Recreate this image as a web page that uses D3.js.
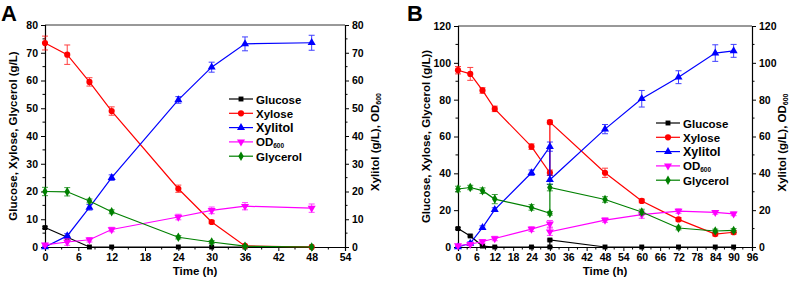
<!DOCTYPE html>
<html>
<head>
<meta charset="utf-8">
<script src="https://cdn.jsdelivr.net/npm/d3@7"></script>
<style>
  body { margin: 0; background: #fff; }
  svg { display: block; }
  text { font-family: "Liberation Sans", Arial, sans-serif; font-weight: bold; fill: #000; }
</style>
</head>
<body>
<div id="chart"></div>
<script>
////////////////////////////////////////////////////////////////////////
// Data

let seriesNames = ["Glucose", "Xylose", "Xylitol", "OD600", "Glycerol"];

// Panel A
let timeA     = [0, 4, 8, 12, 24, 30, 36, 48];
let glucoseA  = [7, 3.5, 0, 0, 0, 0, 0, 0];
let glucoseErrA = [0.3, 0.3, 0.2, 0.2, 0.2, 0.2, 0.2, 0.2];
let xyloseA   = [73.5, 69.3, 59.5, 49, 21, 9, 0.4, 0];
let xyloseErrA = [2.5, 3.5, 1.5, 1.5, 1.3, 0.6, 0.3, 0];
let xylitolA  = [0, 4, 14.3, 25, 53, 64.8, 73.2, 73.6];
let xylitolErrA = [0.3, 0.8, 1, 1, 1.2, 1.8, 2.5, 2.7];
let odA       = [0.8, 1.8, 2.6, 6.3, 10.8, 13.2, 14.7, 14];
let odErrA    = [0.5, 1.2, 0.8, 0.8, 1, 1.2, 1.3, 1.5];
let glycerolA = [20, 19.9, 16.6, 12.7, 3.5, 1.8, 0.3, 0];
let glycerolErrA = [1.5, 1.5, 0.7, 0.7, 0.6, 0.5, 0.3, 0.2];

// Panel B (two samples at 30 h: before and after feeding)
let timeB     = [0, 4, 8, 12, 24, 30, 30, 48, 60, 72, 84, 90];
let glucoseB  = [10, 6, 0.5, 0, 0, 0, 3.8, 0, 0, 0, 0, 0];
let glucoseErrB = [0.5, 0.5, 0.4, 0.3, 0.3, 0.3, 0.5, 0.2, 0.2, 0.2, 0.2, 0.2];
let xyloseB   = [96, 94, 85, 75, 54.5, 40.3, 67.8, 40.3, 25, 15, 7, 8];
let xyloseErrB = [2, 3.5, 1.5, 1.5, 1.5, 1.5, 1, 2.5, 1, 1, 1, 1];
let xylitolB  = [0, 2, 10.5, 20.3, 40.3, 54.5, 36.5, 64, 80.5, 92.2, 105.3, 106.5];
let xylitolErrB = [0.5, 0.8, 1, 1, 1.5, 2.5, 2.5, 2.5, 4.5, 3.5, 4.5, 3.5];
let odB       = [0.8, 1.5, 3, 4.6, 9.7, 12.6, 8.3, 14.6, 17.6, 19.5, 18.8, 18];
let odErrB    = [0.5, 0.8, 1, 1.2, 1.3, 1.8, 2, 1.2, 2, 1.2, 1, 1];
let glycerolB = [31.5, 32.3, 30.6, 26, 21.5, 18.3, 32.3, 25.8, 19, 10.3, 8.7, 9];
let glycerolErrB = [1.5, 1.2, 1.5, 2.5, 1.5, 1, 1.8, 1.5, 1.5, 1, 1, 1];

////////////////////////////////////////////////////////////////////////
// Styles and helpers

let colors = { Glucose: "#000000", Xylose: "#ff0000", Xylitol: "#0000ff", OD600: "#ff00ff", Glycerol: "#008000" };
let symbols = {
  Glucose: d3.symbol().type(d3.symbolSquare).size(24),
  Xylose: d3.symbol().type(d3.symbolCircle).size(30),
  Xylitol: d3.symbol().type(d3.symbolTriangle).size(28),
  OD600: d3.symbol().type(d3.symbolTriangle).size(28),
  Glycerol: d3.symbol().type(d3.symbolDiamond).size(26)
};
let rotate = { OD600: 180 };

let svg = d3.select("#chart").append("svg").attr("width", 796).attr("height", 281);

function zip(t, v, e) {
  return t.map((x, i) => ({ t: x, v: v[i], e: e[i] }));
}

function drawPanel(p) {
  let x = d3.scaleLinear().domain([0, p.xMax]).range([p.left, p.right]);
  let y = d3.scaleLinear().domain([0, p.yMax]).range([p.bottom, p.top]);
  let g = svg.append("g");

  // frame top line
  g.append("line").attr("x1", p.left).attr("x2", p.right).attr("y1", p.top).attr("y2", p.top)
    .attr("stroke", "#333").attr("stroke-width", 1);

  // minor ticks
  let minorX = d3.range(0, p.xMax + 0.01, p.xStep / 2).filter(v => v % p.xStep !== 0);
  let minorY = d3.range(0, p.yMax + 0.01, p.yStep / 2).filter(v => v % p.yStep !== 0);

  let bottom = g.append("g").attr("transform", `translate(0,${p.bottom})`)
    .call(d3.axisBottom(x).tickValues(d3.range(0, p.xMax + 0.01, p.xStep)).tickSize(4).tickPadding(3));
  bottom.selectAll("line.minor").data(minorX).enter().append("line")
    .attr("x1", d => x(d)).attr("x2", d => x(d)).attr("y1", 0).attr("y2", 2.5).attr("stroke", "#000");

  let leftAx = g.append("g").attr("transform", `translate(${p.left},0)`)
    .call(d3.axisLeft(y).tickValues(d3.range(0, p.yMax + 0.01, p.yStep)).tickSize(4).tickPadding(3));
  leftAx.selectAll("line.minor").data(minorY).enter().append("line")
    .attr("y1", d => y(d)).attr("y2", d => y(d)).attr("x1", 0).attr("x2", -2.5).attr("stroke", "#000");

  let rightAx = g.append("g").attr("transform", `translate(${p.right},0)`)
    .call(d3.axisRight(y).tickValues(d3.range(0, p.yMax + 0.01, p.yStep)).tickSize(4).tickPadding(3));
  rightAx.selectAll("line.minor").data(minorY).enter().append("line")
    .attr("y1", d => y(d)).attr("y2", d => y(d)).attr("x1", 0).attr("x2", 2.5).attr("stroke", "#000");

  g.selectAll(".domain").attr("stroke", "#000").attr("stroke-width", 1.2);
  g.selectAll(".tick line").attr("stroke", "#000");
  g.selectAll(".tick text").attr("font-size", 10.5).attr("font-family", "Liberation Sans, Arial, sans-serif").attr("font-weight", "bold");

  // axis titles
  g.append("text").attr("x", (p.left + p.right) / 2).attr("y", 275)
    .attr("text-anchor", "middle").attr("font-size", 11.5).text("Time (h)");
  g.append("text").attr("transform", `translate(${p.left - 28},${(p.top + p.bottom) / 2}) rotate(-90)`)
    .attr("text-anchor", "middle").attr("font-size", 11.5).text(p.leftTitle);
  let rt = g.append("text").attr("transform", `translate(${p.right + 34},${(p.top + p.bottom) / 2 + 6}) rotate(-90)`)
    .attr("text-anchor", "middle").attr("font-size", 11.5);
  rt.append("tspan").text("Xylitol (g/L), OD");
  rt.append("tspan").attr("font-size", 7).attr("dy", 2).text("600");

  // panel letter
  g.append("text").attr("x", p.letterX).attr("y", 21).attr("font-size", 22).text(p.letter);

  // series
  let line = d3.line().x(d => x(d.t)).y(d => y(d.v));
  p.series.forEach(s => {
    let data = zip(p.time, s.values, s.errors);
    let c = colors[s.name];
    let sg = g.append("g");
    sg.append("path").attr("d", line(data)).attr("fill", "none").attr("stroke", c).attr("stroke-width", 1.2);
    let eb = sg.selectAll("g.err").data(data.filter(d => d.e > 0.25)).enter().append("g").attr("stroke", c).attr("stroke-width", 1).attr("opacity", 0.75);
    eb.append("line").attr("x1", d => x(d.t)).attr("x2", d => x(d.t)).attr("y1", d => y(d.v - d.e)).attr("y2", d => y(d.v + d.e));
    eb.append("line").attr("x1", d => x(d.t) - 3).attr("x2", d => x(d.t) + 3).attr("y1", d => y(d.v - d.e)).attr("y2", d => y(d.v - d.e));
    eb.append("line").attr("x1", d => x(d.t) - 3).attr("x2", d => x(d.t) + 3).attr("y1", d => y(d.v + d.e)).attr("y2", d => y(d.v + d.e));
    sg.selectAll("path.pt").data(data).enter().append("path")
      .attr("d", symbols[s.name])
      .attr("transform", d => `translate(${x(d.t)},${y(d.v)}) rotate(${rotate[s.name] || 0})`)
      .attr("fill", c);
  });

  // legend
  let lg = g.append("g").attr("transform", `translate(${p.legendX},${p.legendY})`);
  seriesNames.forEach((name, i) => {
    let row = lg.append("g").attr("transform", `translate(0,${i * 14.3})`);
    row.append("line").attr("x1", 0).attr("x2", 24).attr("stroke", colors[name]).attr("stroke-width", 1.2);
    row.append("path").attr("d", symbols[name]).attr("fill", colors[name])
      .attr("transform", `translate(12,0) rotate(${rotate[name] || 0})`);
    let t = row.append("text").attr("x", 27).attr("y", 4.5).attr("font-size", name === "Xylitol" ? 12.5 : 11.5);
    if (name === "OD600") {
      t.append("tspan").text("OD");
      t.append("tspan").attr("font-size", 6.5).attr("dy", 1.5).text("600");
    } else {
      t.text(name);
    }
  });
}

////////////////////////////////////////////////////////////////////////
// Panels

drawPanel({
  letter: "A", letterX: 1,
  left: 45, right: 345, top: 25, bottom: 247,
  xMax: 54, xStep: 6, yMax: 80, yStep: 10,
  leftTitle: "Glucose, Xylose, Glycerol (g/L)",
  legendX: 229, legendY: 99,
  time: timeA,
  series: [
    { name: "Glucose", values: glucoseA, errors: glucoseErrA },
    { name: "Xylose", values: xyloseA, errors: xyloseErrA },
    { name: "Xylitol", values: xylitolA, errors: xylitolErrA },
    { name: "OD600", values: odA, errors: odErrA },
    { name: "Glycerol", values: glycerolA, errors: glycerolErrA }
  ]
});

drawPanel({
  letter: "B", letterX: 407,
  left: 458, right: 752, top: 26, bottom: 247,
  xMax: 96, xStep: 6, yMax: 120, yStep: 20,
  leftTitle: "Glucose, Xylose, Glycerol (g/L))",
  legendX: 656, legendY: 123,
  time: timeB,
  series: [
    { name: "Glucose", values: glucoseB, errors: glucoseErrB },
    { name: "Xylose", values: xyloseB, errors: xyloseErrB },
    { name: "Xylitol", values: xylitolB, errors: xylitolErrB },
    { name: "OD600", values: odB, errors: odErrB },
    { name: "Glycerol", values: glycerolB, errors: glycerolErrB }
  ]
});
</script>
</body>
</html>
